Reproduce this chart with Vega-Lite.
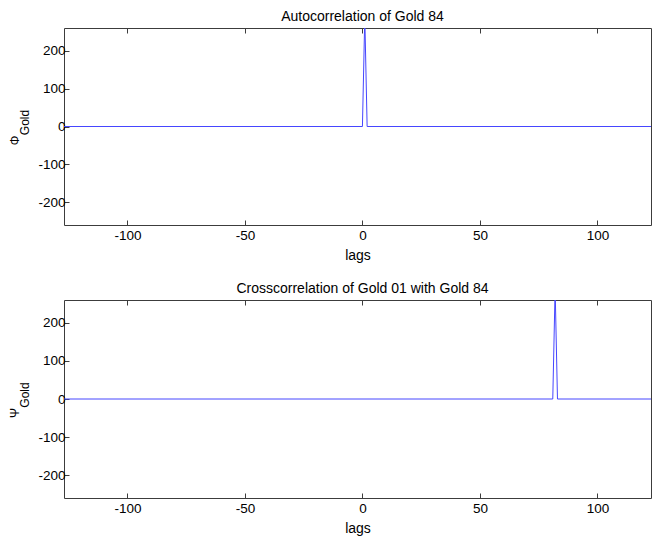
{
  "$schema": "https://vega.github.io/schema/vega-lite/v6.json",
  "padding": {"left": 8, "top": 9, "right": 0, "bottom": 0},
  "background": "white",
  "config": {
    "font": "Liberation Sans",
    "view": {"stroke": "#3c3c3c", "strokeWidth": 1},
    "axis": {
      "domain": false,
      "grid": false,
      "tickColor": "#3c3c3c",
      "tickSize": -5,
      "labelPadding": 8,
      "labelFontSize": 13.5,
      "labelColor": "#000000",
      "titleFontSize": 14,
      "titleFontWeight": "normal",
      "titleColor": "#000000",
      "labelExpr": "replace(datum.label, '\u2212', '-')"
    },
    "axisY": {"labelPadding": 4},
    "title": {"fontSize": 14, "fontWeight": "normal", "color": "#000000"},
    "concat": {"spacing": 18}
  },
  "datasets": {
    "auto": [
      {"lag": -127, "phi": 0},
      {"lag": 0, "phi": 0},
      {"lag": 1, "phi": 290},
      {"lag": 2, "phi": 0},
      {"lag": 127, "phi": 0}
    ],
    "cross": [
      {"lag": -127, "psi": 0},
      {"lag": 81, "psi": 0},
      {"lag": 82, "psi": 290},
      {"lag": 83, "psi": 0},
      {"lag": 127, "psi": 0}
    ]
  },
  "vconcat": [
    {
      "title": {"text": "Autocorrelation of Gold 84", "dx": 5, "offset": 4},
      "data": {"name": "auto"},
      "width": 587,
      "height": 197,
      "resolve": {"axis": {"x": "independent"}},
      "layer": [
        {
          "mark": {"type": "line", "color": "#4646ff", "strokeWidth": 1, "clip": true},
          "encoding": {
            "x": {"field": "lag", "type": "quantitative", "scale": {"domain": [-127, 122.8], "nice": false, "zero": false}, "axis": {"orient": "bottom", "values": [-100, -50, 0, 50, 100], "title": "lags", "titlePadding": 7}},
            "y": {"field": "phi", "type": "quantitative", "scale": {"domain": [-260, 260], "nice": false}, "axis": {"values": [-200, -100, 0, 100, 200], "title": ["Φ\u2800\u2800\u2800", "\u2800Gold"], "titleFontSize": 12, "titleLineHeight": 10, "titlePadding": 6}}
          }
        },
        {
          "mark": {"type": "rule", "opacity": 0},
          "encoding": {
            "x": {"field": "lag", "type": "quantitative", "axis": {"orient": "top", "values": [-100, -50, 0, 50, 100], "labels": false, "title": null}}
          }
        }
      ]
    },
    {
      "title": {"text": "Crosscorrelation of Gold 01 with Gold 84", "dx": 5, "offset": 4},
      "data": {"name": "cross"},
      "width": 587,
      "height": 198,
      "resolve": {"axis": {"x": "independent"}},
      "layer": [
        {
          "mark": {"type": "line", "color": "#4646ff", "strokeWidth": 1, "clip": true},
          "encoding": {
            "x": {"field": "lag", "type": "quantitative", "scale": {"domain": [-127, 122.8], "nice": false, "zero": false}, "axis": {"orient": "bottom", "values": [-100, -50, 0, 50, 100], "title": "lags", "titlePadding": 7}},
            "y": {"field": "psi", "type": "quantitative", "scale": {"domain": [-260, 260], "nice": false}, "axis": {"values": [-200, -100, 0, 100, 200], "title": ["Ψ\u2800\u2800\u2800", "\u2800Gold"], "titleFontSize": 12, "titleLineHeight": 10, "titlePadding": 6}}
          }
        },
        {
          "mark": {"type": "rule", "opacity": 0},
          "encoding": {
            "x": {"field": "lag", "type": "quantitative", "axis": {"orient": "top", "values": [-100, -50, 0, 50, 100], "labels": false, "title": null}}
          }
        }
      ]
    }
  ]
}
